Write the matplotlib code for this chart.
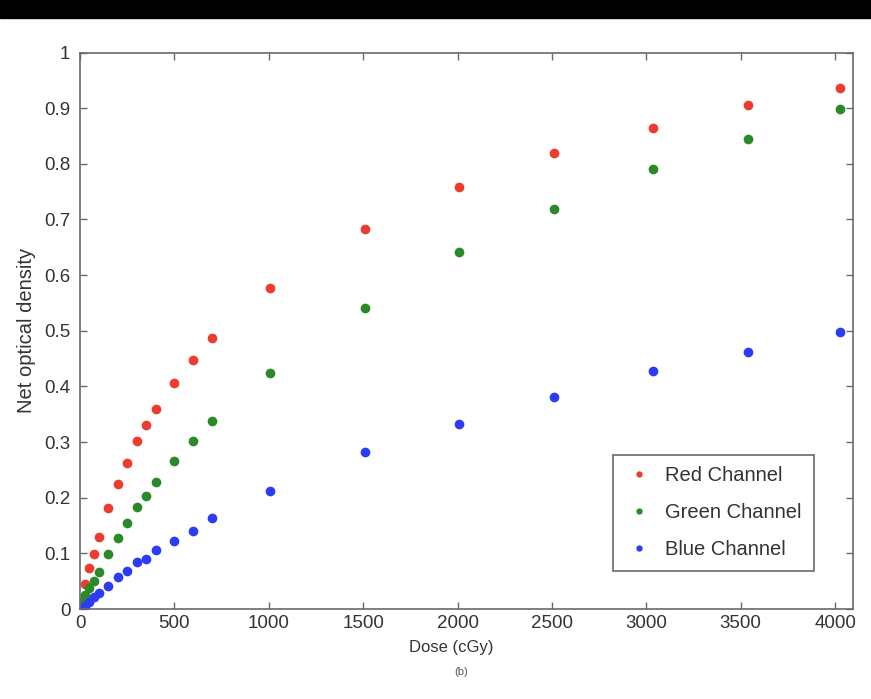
import matplotlib
matplotlib.use('Agg')
import matplotlib.pyplot as plt
from matplotlib.patches import Rectangle

plt.rcParams['font.family'] = ['Liberation Sans', 'DejaVu Sans']

# dose values (cGy) and net optical density for each colour channel
dose = [0, 10, 25, 50, 75, 100, 150, 200, 250, 300, 350, 400, 500, 600, 700,
        1005, 1508, 2010, 2510, 3035, 3540, 4025]
red_od = [0, 0.015, 0.045, 0.073, 0.098, 0.129, 0.182, 0.225, 0.263, 0.302, 0.330, 0.360,
          0.406, 0.447, 0.487, 0.576, 0.682, 0.758, 0.820, 0.864, 0.905, 0.936]
green_od = [0, 0.010, 0.025, 0.038, 0.051, 0.067, 0.098, 0.127, 0.154, 0.183, 0.203, 0.228,
            0.266, 0.301, 0.338, 0.424, 0.540, 0.641, 0.719, 0.790, 0.845, 0.899]
blue_od = [0, 0.002, 0.006, 0.013, 0.022, 0.028, 0.041, 0.057, 0.069, 0.085, 0.090, 0.106,
           0.122, 0.140, 0.163, 0.212, 0.282, 0.332, 0.381, 0.427, 0.462, 0.497]

xticks = [0, 500, 1000, 1500, 2000, 2500, 3000, 3500, 4000]
yticks = [0, 0.1, 0.2, 0.3, 0.4, 0.5, 0.6, 0.7, 0.8, 0.9, 1]
ytick_labels = ['0', '0.1', '0.2', '0.3', '0.4', '0.5', '0.6', '0.7', '0.8', '0.9', '1']

fig = plt.figure(figsize=(8.71, 6.99), dpi=100)
# black strip at the top of the scanned figure
fig.patches.append(Rectangle((0, 1 - 18 / 699), 1, 18 / 699, transform=fig.transFigure,
                             color='black', zorder=10))

ax = fig.add_axes([80 / 871, 90 / 699, 773 / 871, 556.5 / 699])

ax.plot(dose, red_od, 'o', color='#ec3b2f', markersize=7, markeredgewidth=0, label='Red Channel')
ax.plot(dose, green_od, 'o', color='#2a8a2a', markersize=7, markeredgewidth=0, label='Green Channel')
ax.plot(dose, blue_od, 'o', color='#2b3cf2', markersize=7, markeredgewidth=0, label='Blue Channel')

ax.set_xlim(0, 4095)
ax.set_ylim(0, 1)
ax.set_xticks(xticks)
ax.set_xticklabels([str(t) for t in xticks])
ax.set_yticks(yticks)
ax.set_yticklabels(ytick_labels)

axis_grey = '#6a6a6a'
for s in ax.spines.values():
    s.set_color(axis_grey)
    s.set_linewidth(1.2)
ax.tick_params(direction='in', length=5, width=1, color=axis_grey, top=True, right=True,
               labelsize=13.5, labelcolor='#333333')
ax.tick_params(axis='x', pad=4)
ax.tick_params(axis='y', pad=7)

ax.set_xlabel('Dose (cGy)', fontsize=12, color='#333333', labelpad=2)
ax.xaxis.set_label_coords((451 - 80) / 773, -0.055)
ax.set_ylabel('Net optical density', fontsize=14.5, color='#333333', labelpad=6)
fig.text(461 / 871, 1 - 672 / 699, '(b)', fontsize=8, color='#555555', ha='center', va='center')

leg = ax.legend(loc='upper left', bbox_to_anchor=(533 / 773, 154.3 / 556.5), borderaxespad=0,
                fontsize=14.5, markerscale=0.65, handlelength=1.44, handletextpad=0.58,
                labelspacing=0.89, borderpad=0.58, fancybox=False, framealpha=1)
leg.get_frame().set_edgecolor(axis_grey)
leg.get_frame().set_linewidth(1.2)
for t in leg.get_texts():
    t.set_color('#333333')

fig.savefig('out.png', dpi=100)
